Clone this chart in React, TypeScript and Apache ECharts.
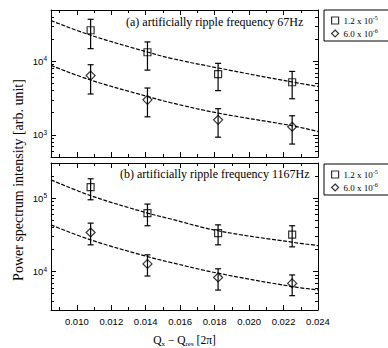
import { useEffect, useRef } from 'react';
import * as echarts from 'echarts';

// ---- data ----
const qValues = [0.0108, 0.0141, 0.0182, 0.0225];

// (a) 67 Hz
const sq67 = [26500, 13300, 6700, 5200];
const sq67Low = [14900, 7600, 4000, 3100];
const sq67High = [37400, 18400, 9400, 7300];
const di67 = [6400, 3000, 1600, 1290];
const di67Low = [3600, 1760, 930, 750];
const di67High = [9000, 4340, 2270, 1820];

// (b) 1167 Hz
const sq1167 = [141000, 62500, 33400, 31900];
const sq1167Low = [94800, 42000, 23100, 21700];
const sq1167High = [183000, 82800, 43200, 42000];
const di1167 = [34000, 12700, 8300, 6900];
const di1167Low = [23100, 8700, 5600, 4700];
const di1167High = [45600, 16900, 10900, 9000];

// fitted curves
const fitX = [0.0085, 0.0108, 0.0141, 0.0154, 0.0182, 0.0225, 0.024];
const fitSq67 = [35900, 22700, 13400, 11100, 8130, 5240, 4560];
const fitDi67 = [8820, 5570, 3330, 2760, 1980, 1330, 1110];
const fitSq1167 = [177000, 108000, 62500, 52300, 35900, 25100, 22600];
const fitDi1167 = [43200, 27000, 16000, 13400, 9500, 6250, 5640];

// ticks
const xLabelTicks = [0.01, 0.012, 0.014, 0.016, 0.018, 0.02, 0.022, 0.024];
const xMinorTicks = [0.009, 0.011, 0.013, 0.015, 0.017, 0.019, 0.021, 0.023];
const yMajorA = [1000, 10000];
const yMinorA = [500, 600, 700, 800, 900, 2000, 3000, 4000, 5000, 6000, 7000, 8000, 9000, 20000, 30000, 40000, 50000];
const yMajorB = [10000, 100000];
const yMinorB = [3000, 4000, 5000, 6000, 7000, 8000, 9000, 20000, 30000, 40000, 50000, 60000, 70000, 80000, 90000, 200000, 300000];
const yExpValues = [1000, 10000, 100000];
const yExpLabels = ['3', '4', '5'];

const seriesNames = ['1.2 x 10-5', '6.0 x 10-6'];
const legendSup = ['-5', '-6'];
const legendBase = ['1.2 x 10', '6.0 x 10'];

const titleA = '(a) artificially ripple frequency 67Hz';
const titleB = '(b) artificially ripple frequency 1167Hz';
const yTitle = 'Power spectrum intensity [arb. unit]';

const SERIF = '"Liberation Serif", "Times New Roman", serif';
const SANS = '"Liberation Sans", Arial, sans-serif';

function zip3(x: number[], lo: number[], hi: number[]) {
  return x.map((v, i) => [v, lo[i], hi[i]]);
}
function zip2(x: number[], y: number[]) {
  return x.map((v, i) => [v, y[i]]);
}

const errorRender = (params: any, api: any) => {
  const x = api.value(0);
  const lo = api.coord([x, api.value(1)]);
  const hi = api.coord([x, api.value(2)]);
  const w = 3;
  const st = { stroke: '#000', lineWidth: 1.2 };
  return {
    type: 'group',
    children: [
      { type: 'line', shape: { x1: lo[0], y1: lo[1], x2: hi[0], y2: hi[1] }, style: st },
      { type: 'line', shape: { x1: lo[0] - w, y1: lo[1], x2: lo[0] + w, y2: lo[1] }, style: st },
      { type: 'line', shape: { x1: hi[0] - w, y1: hi[1], x2: hi[0] + w, y2: hi[1] }, style: st },
    ],
  };
};

function xAxes(grid: number, showLabels: boolean) {
  const common = {
    type: 'value',
    gridIndex: grid,
    min: 0.0085,
    max: 0.024,
    splitLine: { show: false },
    axisLine: { onZero: false, lineStyle: { color: '#000', width: 1 } },
  };
  const major = (position: string, labels: boolean) => ({
    ...common,
    position,
    axisTick: { inside: true, length: 5, customValues: xLabelTicks, lineStyle: { color: '#000', width: 1 } },
    axisLabel: {
      show: labels,
      customValues: xLabelTicks,
      margin: 6,
      color: '#000',
      fontFamily: SANS,
      fontSize: 9.5,
      formatter: (v: number) => v.toFixed(3),
    },
  });
  const minor = (position: string) => ({
    ...common,
    position,
    axisLine: { show: false, onZero: false },
    axisTick: { inside: true, length: 3, customValues: xMinorTicks, lineStyle: { color: '#000', width: 1 } },
    axisLabel: { show: false },
  });
  return [major('bottom', showLabels), minor('bottom'), major('top', false), minor('top')];
}

function yAxes(grid: number, min: number, max: number, majorT: number[], minorT: number[]) {
  const common = {
    type: 'log',
    logBase: 10,
    gridIndex: grid,
    min,
    max,
    splitLine: { show: false },
    axisLine: { onZero: false, lineStyle: { color: '#000', width: 1 } },
  };
  const major = (position: string, labels: boolean) => ({
    ...common,
    position,
    axisTick: { inside: true, length: 5, customValues: majorT, lineStyle: { color: '#000', width: 1 } },
    axisLabel: {
      show: labels,
      customValues: majorT,
      margin: 4,
      color: '#000',
      formatter: (v: number) => {
        const idx = yExpValues.findIndex((e) => Math.abs(e - v) / e < 1e-6);
        return `{b|10}{s|${idx >= 0 ? yExpLabels[idx] : ''}}`;
      },
      rich: {
        b: { fontFamily: SANS, fontSize: 9.5, lineHeight: 12, color: '#000' },
        s: { fontFamily: SANS, fontSize: 6.5, lineHeight: 6, verticalAlign: 'top', color: '#000' },
      },
    },
  });
  const minor = (position: string) => ({
    ...common,
    position,
    axisLine: { show: false, onZero: false },
    axisTick: { inside: true, length: 3, customValues: minorT, lineStyle: { color: '#000', width: 1 } },
    axisLabel: { show: false },
  });
  return [major('left', true), minor('left'), major('right', false), minor('right')];
}

function panelSeries(grid: number, sq: number[], sqLo: number[], sqHi: number[], di: number[], diLo: number[], diHi: number[], fitS: number[], fitD: number[]) {
  const ax = { xAxisIndex: grid * 4, yAxisIndex: grid * 4 };
  const fitStyle = { color: '#000', width: 1.2, type: [4, 1.6] as any };
  return [
    { type: 'line', ...ax, data: zip2(fitX, fitS), smooth: 0.4, symbol: 'none', lineStyle: fitStyle, z: 2 },
    { type: 'line', ...ax, data: zip2(fitX, fitD), smooth: 0.4, symbol: 'none', lineStyle: fitStyle, z: 2 },
    { type: 'custom', ...ax, data: zip3(qValues, sqLo, sqHi), renderItem: errorRender, encode: { x: 0, y: [1, 2] }, z: 3 },
    { type: 'custom', ...ax, data: zip3(qValues, diLo, diHi), renderItem: errorRender, encode: { x: 0, y: [1, 2] }, z: 3 },
    {
      type: 'scatter', ...ax, name: seriesNames[0], data: zip2(qValues, sq), symbol: 'rect', symbolSize: 7,
      itemStyle: { color: 'rgba(255,255,255,0)', borderColor: '#000', borderWidth: 1.2 }, z: 4,
    },
    {
      type: 'scatter', ...ax, name: seriesNames[1], data: zip2(qValues, di), symbol: 'diamond', symbolSize: 9,
      itemStyle: { color: 'rgba(255,255,255,0)', borderColor: '#000', borderWidth: 1.2 }, z: 4,
    },
  ];
}

function legend(top: number) {
  return {
    orient: 'vertical',
    left: 324,
    top,
    data: seriesNames,
    borderColor: '#000',
    borderWidth: 1,
    padding: [5, 24, 3, 7],
    itemGap: 3,
    itemWidth: 7,
    itemHeight: 7,
    selectedMode: false,
    itemStyle: { borderWidth: 1.2, borderColor: '#000', color: '#fff' },
    formatter: (name: string) => {
      const i = seriesNames.indexOf(name);
      return `{b|${legendBase[i]}}{s|${legendSup[i]}}`;
    },
    textStyle: {
      color: '#000',
      rich: {
        b: { fontFamily: SERIF, fontSize: 9, lineHeight: 11, color: '#000' },
        s: { fontFamily: SERIF, fontSize: 6, lineHeight: 5, verticalAlign: 'top', color: '#000' },
      },
    },
  };
}

export default function App() {
  const ref = useRef<HTMLDivElement>(null);
  useEffect(() => {
    if (!ref.current) return;
    const chart = echarts.init(ref.current, null, { renderer: 'svg' });
    const option: any = {
      animation: false,
      backgroundColor: '#fff',
      grid: [
        { left: 51, top: 10, width: 267, height: 147, containLabel: false, outerBoundsMode: 'none' },
        { left: 51, top: 163, width: 267, height: 147, containLabel: false, outerBoundsMode: 'none' },
      ],
      xAxis: [
        ...xAxes(0, false),
        ...xAxes(1, true).map((a, i) =>
          i === 0
            ? {
                ...a,
                name: 'Q{sub|x} − Q{sub|res} [2π]',
                nameLocation: 'middle',
                nameGap: 23,
                nameTextStyle: {
                  color: '#000',
                  rich: {
                    sub: { fontFamily: SERIF, fontSize: 7, lineHeight: 6, verticalAlign: 'bottom', color: '#000' },
                  },
                  fontFamily: SERIF,
                  fontSize: 11.5,
                  lineHeight: 14,
                },
              }
            : a
        ),
      ],
      yAxis: [
        ...yAxes(0, 500, 50000, yMajorA, yMinorA),
        ...yAxes(1, 3000, 300000, yMajorB, yMinorB),
      ],
      legend: [legend(10), legend(164)],
      series: [
        ...panelSeries(0, sq67, sq67Low, sq67High, di67, di67Low, di67High, fitSq67, fitDi67),
        ...panelSeries(1, sq1167, sq1167Low, sq1167High, di1167, di1167Low, di1167High, fitSq1167, fitDi1167),
      ],
      graphic: [
        {
          type: 'text', left: 126, top: 16,
          style: { text: titleA, font: `12px ${SERIF}`, fill: '#000' },
        },
        {
          type: 'text', left: 120, top: 168,
          style: { text: titleB, font: `12px ${SERIF}`, fill: '#000' },
        },
        {
          type: 'text', x: 18, y: 180, rotation: Math.PI / 2,
          style: { text: yTitle, font: `14px ${SERIF}`, fill: '#000', align: 'center', verticalAlign: 'middle' },
        },
      ],
    };
    chart.setOption(option);
    return () => chart.dispose();
  }, []);
  return <div ref={ref} style={{ position: 'fixed', left: 0, top: 0, width: 388, height: 348 }} />;
}
